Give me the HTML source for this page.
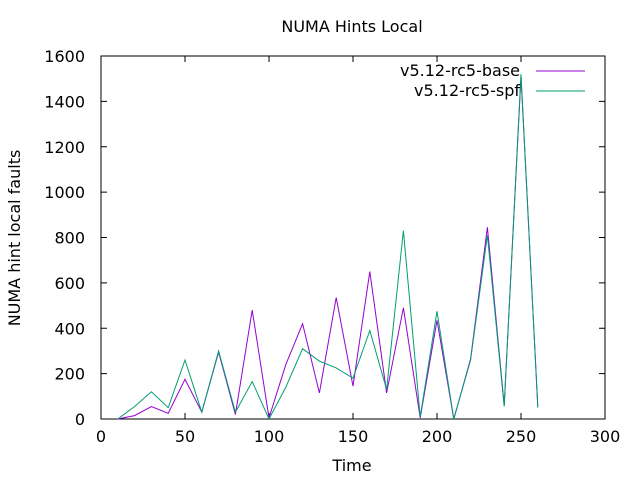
<!DOCTYPE html>
<html><head><meta charset="utf-8"><style>
body{margin:0;background:#fff}
svg text{font-family:"DejaVu Sans","Liberation Sans",sans-serif;font-size:16px;fill:#000}
</style></head><body>
<svg width="640" height="480" id="c">
<rect width="640" height="480" fill="#fff"/>
<text x="352" y="32" text-anchor="middle">NUMA Hints Local</text>
<text x="352" y="471" text-anchor="middle">Time</text>
<text transform="translate(20,238) rotate(-90)" text-anchor="middle">NUMA hint local faults</text>
<g id="axes"></g>
<g id="series"></g>
<g>
<text x="520" y="76" text-anchor="end">v5.12-rc5-base</text>
<line x1="536" y1="71" x2="585" y2="71" stroke="#9400d3"/>
<text x="520" y="96" text-anchor="end">v5.12-rc5-spf</text>
<line x1="536" y1="91" x2="585" y2="91" stroke="#009e73"/>
</g>
</svg>
<script>
const times=[10,20,30,40,50,60,70,80,90,100,110,120,130,140,150,160,170,180,190,200,210,220,230,240,250,260];
const baseValues=[0,15,55,25,175,30,295,20,480,5,240,420,115,535,145,650,115,490,5,435,0,265,845,60,1510,55];
const spfValues=[0,55,120,50,260,30,300,30,165,0,140,310,255,225,180,390,130,830,10,475,0,260,810,55,1520,50];
const xTicks=[0,50,100,150,200,250,300];
const yTicks=[0,200,400,600,800,1000,1200,1400,1600];
const L=101,R=605,T=56,B=419;
const xs=v=>L+(v-0)/300*(R-L);
const ys=v=>B-v/1600*(B-T);
const NS="http://www.w3.org/2000/svg";
const axes=document.getElementById('axes');
function mk(tag,attrs,parent){const e=document.createElementNS(NS,tag);for(const k in attrs)e.setAttribute(k,attrs[k]);parent.appendChild(e);return e;}
const frame=mk('rect',{x:L,y:T,width:R-L,height:B-T,fill:'none',stroke:'#000'},axes);


xTicks.forEach(t=>{
  const x=xs(t);
  const l1=mk('line',{x1:x,y1:B,x2:x,y2:B-6,stroke:'#000'},axes);
  
  
  const l2=mk('line',{x1:x,y1:T,x2:x,y2:T+6,stroke:'#000'},axes);
  
  
  const tx=mk('text',{x:x,y:B+23,'text-anchor':'middle'},axes);tx.textContent=t;
  
  
});
yTicks.forEach(t=>{
  const y=ys(t);
  const l1=mk('line',{x1:L,y1:y,x2:L+6,y2:y,stroke:'#000'},axes);
  
  
  const l2=mk('line',{x1:R,y1:y,x2:R-6,y2:y,stroke:'#000'},axes);
  
  
  const tx=mk('text',{x:L-16,y:y+6,'text-anchor':'end'},axes);tx.textContent=t;
  
  
});
const series=document.getElementById('series');
function line(vals,color,name){
  const p=mk('polyline',{points:times.map((t,i)=>xs(t)+','+ys(vals[i])).join(' '),fill:'none',stroke:color,'stroke-width':1},series);
  
  
}
line(baseValues,'#9400d3','series-base');
line(spfValues,'#009e73','series-spf');
</script>
</body></html>
